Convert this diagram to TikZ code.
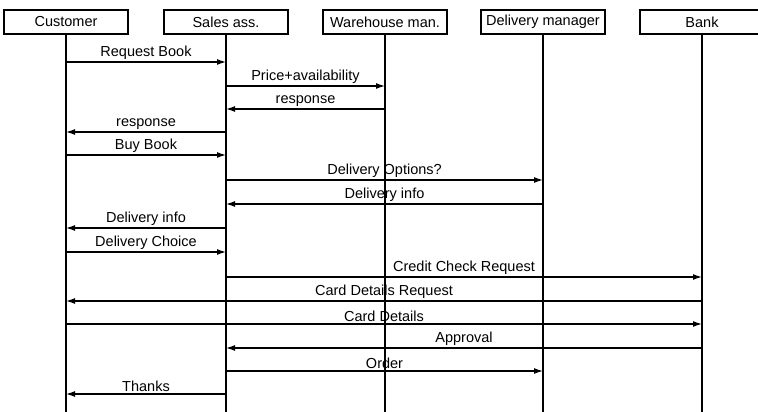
\documentclass[tikz,border=0pt]{standalone}
\usepackage{fontspec}
\setmainfont{Liberation Sans}
\usetikzlibrary{arrows.meta}

\begin{document}
\begin{tikzpicture}[x=1pt, y=-1pt, line width=1.3pt,
	actor/.style = {draw, line width=1.6pt, minimum width=124pt, minimum height=24pt, inner sep=0pt, font=\fontsize{14.5}{16}\selectfont},
	msg/.style = {-{Latex[length=9pt,width=6pt]}},
	lbl/.style = {midway, above, inner sep=1.5pt, font=\fontsize{14.5}{16}\selectfont}]
	
	% Page frame (Bank box runs off the right edge)
	\useasboundingbox (0,0) rectangle (758,412);
	\clip (0,0) rectangle (758,412);
	
	% Participant boxes
	\node[actor] (cust)  at (66,22)  {Customer};
	\node[actor] (sales) at (226,22) {Sales ass.};
	\node[actor] (ware)  at (385,22) {Warehouse man.};
	\node[actor] (deliv) at (543,22) {Delivery manager};
	\node[actor] (bank)  at (702,22) {Bank};
	
	% Lifelines down to the bottom edge
	\coordinate (custEnd)  at (66,412);
	\coordinate (salesEnd) at (226,412);
	\coordinate (wareEnd)  at (385,412);
	\coordinate (delivEnd) at (543,412);
	\coordinate (bankEnd)  at (702,412);
	\draw (cust) -- (custEnd);
	\draw (sales) -- (salesEnd);
	\draw (ware) -- (wareEnd);
	\draw (deliv) -- (delivEnd);
	\draw (bank) -- (bankEnd);
	
	% Book enquiry
	\draw[msg] (cust |- 0,62) -- (sales |- 0,62) node[lbl] (m1) {Request Book};
	\draw[msg] (sales |- 0,86) -- (ware |- 0,86) node[lbl] (m2) {Price+availability};
	\draw[msg] (ware |- 0,109) -- (sales |- 0,109) node[lbl] (m3) {response};
	\draw[msg] (sales |- 0,132) -- (cust |- 0,132) node[lbl] (m4) {response};
	\draw[msg] (cust |- 0,155) -- (sales |- 0,155) node[lbl] (m5) {Buy Book};
	
	% Delivery
	\draw[msg] (sales |- 0,180) -- (deliv |- 0,180) node[lbl] (m6) {Delivery Options?};
	\draw[msg] (deliv |- 0,204) -- (sales |- 0,204) node[lbl] (m7) {Delivery info};
	\draw[msg] (sales |- 0,228) -- (cust |- 0,228) node[lbl] (m8) {Delivery info};
	\draw[msg] (cust |- 0,252) -- (sales |- 0,252) node[lbl] (m9) {Delivery Choice};
	
	% Payment
	\draw[msg] (sales |- 0,277) -- (bank |- 0,277) node[lbl] (m10) {Credit Check Request};
	\draw[msg] (bank |- 0,301) -- (cust |- 0,301) node[lbl] (m11) {Card Details Request};
	\draw[msg] (cust |- 0,324) -- (bank |- 0,324) node[lbl] (m12) {Card Details};
	\draw[msg] (bank |- 0,348) -- (sales |- 0,348) node[lbl] (m13) {Approval};
	\draw[msg] (sales |- 0,371) -- (deliv |- 0,371) node[lbl] (m14) {Order};
	\draw[msg] (sales |- 0,394) -- (cust |- 0,394) node[lbl] (m15) {Thanks};
	
\end{tikzpicture}
\end{document}
